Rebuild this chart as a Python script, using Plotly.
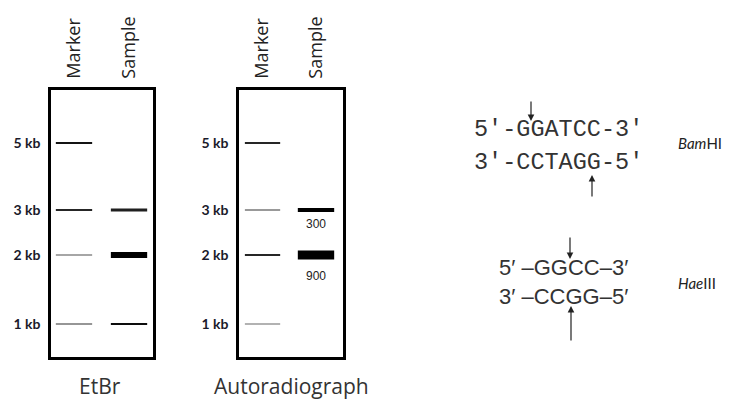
import plotly.graph_objects as go

# ---------------- data ----------------
ladder_kb = [5, 3, 2, 1]
ladder_labels = ["5 kb", "3 kb", "2 kb", "1 kb"]
ladder_migration = [53, 120, 165, 234]          # migration distance (arbitrary units)
lanes = ["Marker", "Sample"]

# EtBr gel: band darkness (0..1) and relative band amount
etbr_marker_kb = [5, 3, 2, 1]
etbr_marker_dark = [0.92, 0.85, 0.35, 0.55]
etbr_marker_amount = [1.0, 1.0, 1.0, 0.8]
etbr_sample_kb = [3, 2, 1]
etbr_sample_dark = [0.88, 1.0, 0.95]
etbr_sample_amount = [1.5, 3.0, 1.1]

# Autoradiograph
auto_marker_kb = [5, 3, 2, 1]
auto_marker_dark = [0.85, 0.4, 0.85, 0.4]
auto_marker_amount = [1.0, 1.0, 0.9, 0.8]
auto_sample_kb = [3, 2]
auto_sample_dark = [1.0, 1.0]
auto_sample_amount = [2.0, 4.6]
auto_sample_counts = ["300", "900"]

gel_titles = ["EtBr", "Autoradiograph"]

bam_top = "5′-GGATCC-3′"
bam_bottom = "3′-CCTAGG-5′"
hae_top = "5′ –GGCC–3′"
hae_bottom = "3′ –CCGG–5′"
enzymes = ["<i>Bam</i>HI", "<i>Hae</i>III"]

# --------------- figure ---------------
W, H = 734, 403
fig = go.Figure()

mig = dict(zip(ladder_kb, ladder_migration))


def grey(d):
    v = int(round(255 * (1 - d)))
    return f"rgb({v},{v},{v})"


def add_bands(xa, ya, lane, kbs, dark, amount, half):
    for kb, d, a in zip(kbs, dark, amount):
        fig.add_trace(go.Scatter(
            x=[lane - half, lane + half], y=[mig[kb], mig[kb]],
            mode="lines", line=dict(color=grey(d), width=2 * a),
            xaxis=xa, yaxis=ya, hoverinfo="skip", showlegend=False))


add_bands("x", "y", 0, etbr_marker_kb, etbr_marker_dark, etbr_marker_amount, 0.33)
add_bands("x", "y", 1, etbr_sample_kb, etbr_sample_dark, etbr_sample_amount, 0.33)
add_bands("x2", "y2", 0, auto_marker_kb, auto_marker_dark, auto_marker_amount, 0.33)
add_bands("x2", "y2", 1, auto_sample_kb, auto_sample_dark, auto_sample_amount, 0.34)


def px_x(p):
    return p / W


def px_y(p):
    return 1 - p / H


xcommon = dict(tickvals=[0, 1], ticktext=lanes, side="top", tickangle=-90,
               showline=True, mirror=True, linewidth=2.5, linecolor="black",
               showgrid=False, zeroline=False, ticks="", ticklabelstandoff=5,
               automargin=False,
               tickfont=dict(family="Open Sans", size=18, color="#222"), fixedrange=True)
ycommon = dict(tickvals=ladder_migration, ticktext=ladder_labels, range=[267, 0],
               showline=True, mirror=True, linewidth=2.5, linecolor="black",
               showgrid=False, zeroline=False, ticks="", ticklabelstandoff=5,
               automargin=False,
               tickfont=dict(family="Lato", size=14, color="#1a1a2a", weight="bold"),
               fixedrange=True)

fig.update_layout(
    template="none",
    width=W, height=H, autosize=False,
    margin=dict(l=0, r=0, t=0, b=0, pad=0),
    paper_bgcolor="white", plot_bgcolor="white",
    showlegend=False,
    xaxis=dict(domain=[px_x(51), px_x(153)], range=[-0.418, 1.436], anchor="y", **xcommon),
    yaxis=dict(domain=[px_y(357), px_y(90)], anchor="x", **ycommon),
    xaxis2=dict(domain=[px_x(239), px_x(343)], range=[-0.44, 1.505], anchor="y2", **xcommon),
    yaxis2=dict(domain=[px_y(357), px_y(90)], anchor="x2", **ycommon),
)

ann = []
# gel titles
for t, cx in zip(gel_titles, [100, 291]):
    ann.append(dict(text=t, x=px_x(cx), y=px_y(386), xanchor="center", yanchor="middle",
                    xref="paper", yref="paper", showarrow=False,
                    font=dict(family="Open Sans", size=21, color="#333")))
# counts under autoradiograph sample bands
for kb, c, off in zip(auto_sample_kb, auto_sample_counts, [14, 21]):
    ann.append(dict(text=c, x=1, y=mig[kb], xref="x2", yref="y2", yshift=-off,
                    showarrow=False, font=dict(family="Liberation Sans", size=12, color="#222")))

# restriction sites
seq = [(bam_top, 472, 129, "Liberation Mono", 23.5), (bam_bottom, 472, 162, "Liberation Mono", 23.5),
       (hae_top, 497, 267, "Liberation Sans", 22), (hae_bottom, 497, 296, "Liberation Sans", 22)]
for t, x0, y0, fam, sz in seq:
    ann.append(dict(text=t, x=px_x(x0), y=px_y(y0), xanchor="left", yanchor="middle",
                    xref="paper", yref="paper", showarrow=False,
                    font=dict(family=fam, size=sz, color="#333")))
for t, y0 in zip(enzymes, [143, 283]):
    ann.append(dict(text=t, x=px_x(676), y=px_y(y0), xanchor="left", yanchor="middle",
                    xref="paper", yref="paper", showarrow=False,
                    font=dict(family="Lato", size=15, color="#222")))

# cut-site arrows
for (xt, yt, ay) in [(531, 121, -21), (592, 175, 23), (570, 259, -23), (571, 306, 36)]:
    ann.append(dict(text="", x=px_x(xt), y=px_y(yt), xref="paper", yref="paper",
                    showarrow=True, ax=0, ay=ay, arrowhead=2, arrowsize=1.1,
                    arrowwidth=1.2, arrowcolor="#222", standoff=0))

fig.update_layout(annotations=ann)
fig.write_html("out.html", config={"displayModeBar": False},
               post_script="document.body.style.margin='0px';")
